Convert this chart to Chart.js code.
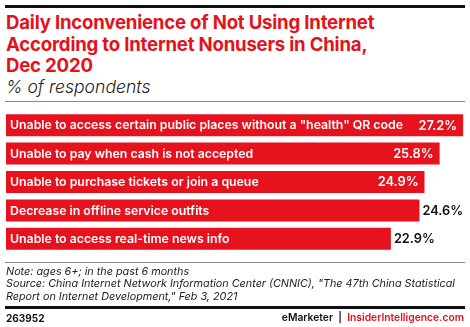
<!DOCTYPE html>
<html>
<head>
<meta charset="utf-8">
<script src="https://cdn.jsdelivr.net/npm/chart.js@4/dist/chart.umd.min.js"></script>
<style>
  html, body { margin: 0; padding: 0; background: #fff; }
  body { width: 470px; height: 327px; position: relative; overflow: hidden; font-family: Inter, "Noto Sans", sans-serif; }
  .rule { position: absolute; left: 5px; width: 460px; }
  #topRule { top: 5px; height: 3px; background: #111; }
  #subRule { top: 101px; height: 1px; background: #888; }
  #noteRule { top: 262px; height: 1px; background: #888; }
  #footRule { top: 306px; height: 3px; background: #111; }
  #title { position: absolute; left: 6px; top: 12px; color: #e3121b; font-weight: 700; font-size: 18.6px; line-height: 21.5px; letter-spacing: -0.2px; white-space: nowrap; }
  #subtitle { position: absolute; left: 6px; top: 77px; color: #222; font-style: italic; font-weight: 300; font-size: 17.6px; line-height: 20px; white-space: nowrap; }
  #notes { position: absolute; left: 6px; top: 265.5px; color: #222; font-style: italic; font-size: 10.8px; line-height: 12.8px; white-space: nowrap; }
  #code { position: absolute; left: 6px; top: 312px; color: #111; font-weight: 700; font-size: 10px; }
  #brand { position: absolute; right: 6px; top: 311px; font-weight: 600; font-size: 10.3px; color: #111; white-space: nowrap; }
  #brand .red { color: #e3121b; }
  canvas { position: absolute; left: 0; top: 0; }
</style>
</head>
<body>
<div class="rule" id="topRule"></div>
<div id="title">Daily Inconvenience of Not Using Internet<br>According to Internet Nonusers in China,<br>Dec 2020</div>
<div id="subtitle">% of respondents</div>
<div class="rule" id="subRule"></div>
<canvas id="chart" width="470" height="327"></canvas>
<div class="rule" id="noteRule"></div>
<div id="notes">Note: ages 6+; in the past 6 months<br>Source: China Internet Network Information Center (CNNIC), "The 47th China Statistical<br>Report on Internet Development," Feb 3, 2021</div>
<div class="rule" id="footRule"></div>
<div id="code">263952</div>
<div id="brand">eMarketer &nbsp;|&nbsp; <span class="red">InsiderIntelligence.com</span></div>

<script>
const categories = [
  'Unable to access certain public places without a "health" QR code',
  'Unable to pay when cash is not accepted',
  'Unable to purchase tickets or join a queue',
  'Decrease in offline service outfits',
  'Unable to access real-time news info'
];
const values = [27.2, 25.8, 24.9, 24.6, 22.9];

const RED = '#e6121d';

// Category names inside each bar, value at the bar end (inside when the bar is long enough)
const barLabels = {
  id: 'barLabels',
  afterDatasetsDraw(chart) {
    const ctx = chart.ctx;
    const meta = chart.getDatasetMeta(0);
    ctx.save();
    ctx.textBaseline = 'middle';
    meta.data.forEach((bar, i) => {
      const y = bar.y + 0.5;
      ctx.font = '600 12.3px Inter, "Noto Sans", sans-serif';
      ctx.fillStyle = '#fff';
      ctx.textAlign = 'left';
      ctx.fillText(categories[i], bar.base + 4, y);
      const txt = values[i].toFixed(1) + '%';
      ctx.font = '600 12.8px Inter, "Noto Sans", sans-serif';
      if (values[i] >= 24.8) {
        ctx.fillStyle = '#fff';
        ctx.textAlign = 'right';
        ctx.fillText(txt, bar.x - 6, y);
      } else {
        ctx.fillStyle = '#111';
        ctx.textAlign = 'left';
        ctx.fillText(txt, bar.x + 3, y);
      }
    });
    ctx.restore();
  }
};

new Chart(document.getElementById('chart'), {
  type: 'bar',
  data: {
    labels: categories,
    datasets: [{
      data: values,
      backgroundColor: RED,
      borderWidth: 0,
      categoryPercentage: 0.775,
      barPercentage: 1
    }]
  },
  options: {
    indexAxis: 'y',
    responsive: false,
    animation: false,
    devicePixelRatio: 1,
    layout: { padding: { left: 6, right: 6, top: 111, bottom: 74 } },
    scales: {
      x: { display: false, min: 0, max: 27.25 },
      y: { display: false }
    },
    plugins: {
      legend: { display: false },
      tooltip: { enabled: false }
    }
  },
  plugins: [barLabels]
});
</script>
</body>
</html>
